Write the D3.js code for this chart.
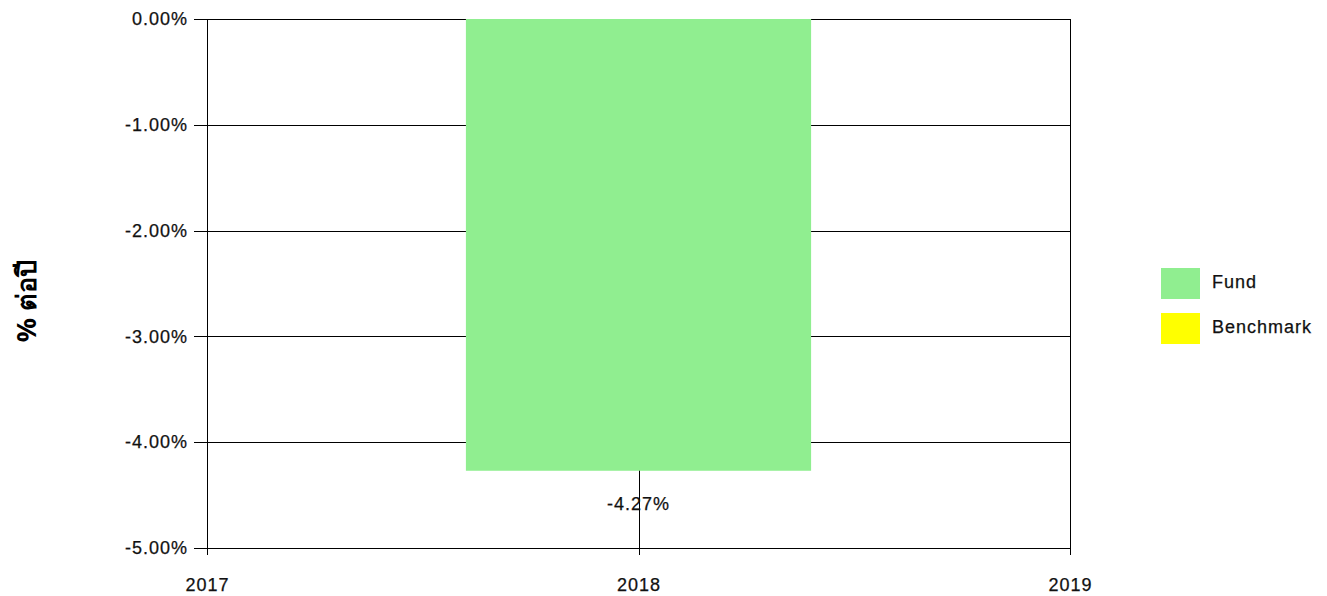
<!DOCTYPE html>
<html lang="th">
<head>
    <meta charset="UTF-8">
    <title>Fund performance</title>
    <script src="https://d3js.org/d3.v7.min.js"></script>
    <style>
        body { margin: 0; background: #fff; }
        svg { font-family: "Liberation Sans", Arial, sans-serif; }
        .grid line { stroke: #000; stroke-width: 1; shape-rendering: crispEdges; }
        .axis path { display: none; }
        .axis line { stroke: #000; shape-rendering: crispEdges; }
        .axis text, .lbl { font-size: 18px; fill: #111; letter-spacing: 1px; stroke: #111; stroke-width: 0.25px; }
    </style>
</head>
<body>
    <svg id="chart" width="1327" height="596"></svg>
    <script>
        // x ticks (years) and the series
        const years = [2017, 2018, 2019];
        const fundYears = [2018];
        const fundValues = [-4.27];
        const benchmarkValues = [];   // no benchmark bars in the picture
        const yTicks = [0, -1, -2, -3, -4, -5];
        const legendItems = [
            { name: "Fund", color: "#90EE90" },
            { name: "Benchmark", color: "#FFFF00" }
        ];

        const margin = { top: 19, right: 257, bottom: 48, left: 207 };
        const width = 1327 - margin.left - margin.right;
        const height = 596 - margin.top - margin.bottom;

        const svg = d3.select("#chart");
        const g = svg.append("g").attr("transform", `translate(${margin.left},${margin.top})`);

        const x = d3.scaleLinear().domain([2017, 2019]).range([0, width]);
        const y = d3.scaleLinear().domain([0, -5]).range([0, height]);

        // gridlines behind bars
        const grid = g.append("g").attr("class", "grid");
        grid.selectAll(".h").data(yTicks).enter().append("line")
            .attr("x1", 0).attr("x2", width)
            .attr("y1", d => Math.round(y(d)) + 0.5).attr("y2", d => Math.round(y(d)) + 0.5);
        grid.selectAll(".v").data(years).enter().append("line")
            .attr("y1", 0).attr("y2", height)
            .attr("x1", d => Math.round(x(d)) + 0.5).attr("x2", d => Math.round(x(d)) + 0.5);

        // bars
        const yearStep = x(2018) - x(2017);
        const barW = yearStep * 0.8;
        g.selectAll(".bar").data(fundValues).enter().append("rect")
            .attr("class", "bar")
            .attr("x", (d, i) => x(fundYears[i]) - barW / 2)
            .attr("y", d => y(Math.max(0, d)))
            .attr("width", barW)
            .attr("height", d => Math.abs(y(d) - y(0)))
            .attr("fill", legendItems[0].color);

        // value labels
        g.selectAll(".val").data(fundValues).enter().append("text")
            .attr("class", "lbl")
            .attr("x", (d, i) => x(fundYears[i]))
            .attr("y", d => y(d) + 39)
            .attr("text-anchor", "middle")
            .text(d => d.toFixed(2) + "%");

        // axes
        g.append("g").attr("class", "axis")
            .call(d3.axisLeft(y).tickValues(yTicks).tickSize(13).tickPadding(6)
                .tickFormat(d => d.toFixed(2) + "%"));
        g.append("g").attr("class", "axis")
            .attr("transform", `translate(0,${height})`)
            .call(d3.axisBottom(x).tickValues(years).tickSize(7).tickPadding(23)
                .tickFormat(d3.format("d")));

        // y axis title
        svg.append("text")
            .attr("transform", "translate(36,301) rotate(-90)")
            .attr("text-anchor", "middle")
            .attr("font-size", 27)
            .attr("font-weight", "bold")
            .attr("font-family", "'Noto Sans', 'DejaVu Sans', sans-serif")
            .text("% ต่อปี");

        // legend
        const legend = svg.append("g").attr("transform", "translate(1161,268)");
        const item = legend.selectAll(".item").data(legendItems).enter().append("g")
            .attr("transform", (d, i) => `translate(0,${i * 45})`);
        item.append("rect").attr("width", 39).attr("height", 31).attr("fill", d => d.color);
        item.append("text").attr("class", "lbl").attr("x", 51).attr("y", 20)
            .text(d => d.name);
    </script>
</body>
</html>
